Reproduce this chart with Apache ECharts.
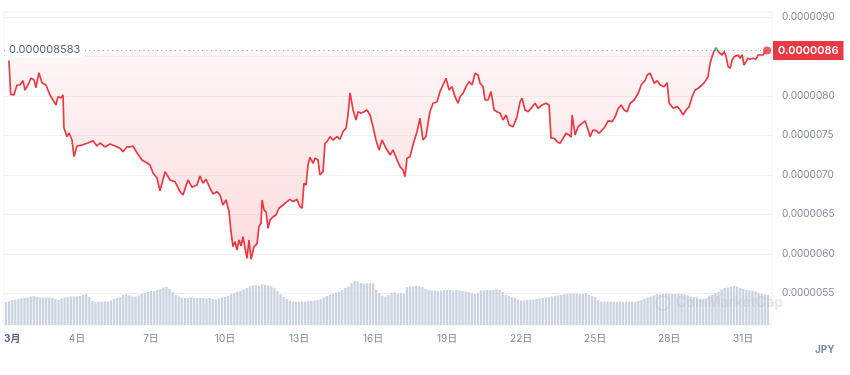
<!DOCTYPE html>
<html><head><meta charset="utf-8">
<script src="https://cdn.jsdelivr.net/npm/echarts@6/dist/echarts.min.js"></script>
<style>html,body{margin:0;padding:0;background:#fff}#c{width:850px;height:375px}</style>
</head><body><div id="c"></div>
<script>
// time in hours since 3/1 00:00, price in 1e-9 JPY
const priceHours = [5.8,7.5,8.8,10.7,13.6,16.5,19.5,21.4,24.3,27.2,
30.2,32.1,35.0,37.9,41.8,45.7,48.6,51.6,53.5,56.4,
58.4,59.3,62.3,64.2,67.1,69.1,72.0,76.9,82.7,87.6,
91.4,94.4,99.2,104.1,109.0,113.8,116.7,120.6,123.5,126.5,
130.4,135.2,140.1,143.0,145.9,149.8,152.7,155.6,157.6,162.5,
167.3,172.2,175.1,180.0,183.9,188.7,191.6,194.6,197.5,201.4,
204.3,208.2,211.1,214.0,217.0,219.9,221.8,223.7,225.7,227.6,
229.6,231.5,233.5,235.4,237.4,239.3,241.3,244.2,247.1,249.0,
251.0,252.0,253.9,255.9,257.8,259.8,262.7,265.6,268.5,272.4,
276.3,279.2,282.1,286.0,288.9,290.9,292.8,294.8,296.7,298.6,
301.6,303.5,306.4,308.3,311.3,313.2,315.2,318.1,321.0,324.9,
327.8,330.7,333.7,335.6,337.6,340.5,343.4,345.3,348.3,351.2,
354.1,357.0,359.9,362.8,365.8,368.7,372.6,376.5,379.4,383.3,
386.2,389.1,391.0,393.0,395.9,398.8,402.7,405.6,408.5,411.4,
415.3,418.3,422.2,425.1,428.0,430.9,433.9,436.8,439.7,442.6,
444.6,447.5,450.4,453.3,456.3,459.2,462.1,464.0,467.0,468.9,
471.8,474.7,477.7,480.6,483.5,486.4,489.4,492.3,496.2,500.0,
503.0,504.9,507.8,510.7,513.7,517.5,520.5,524.4,528.2,531.2,
533.1,536.0,538.9,541.9,544.8,547.7,550.6,552.6,553.6,556.5,
559.4,563.3,566.2,569.2,571.1,574.0,577.0,579.9,582.8,585.7,
588.6,592.6,595.5,598.4,601.3,604.2,607.1,610.1,614.0,617.9,
620.8,622.7,624.7,626.6,629.5,631.5,633.4,636.3,639.3,643.1,
646.0,648.0,649.0,651.9,655.8,658.7,661.5,664.4,667.4,670.3,
673.2,676.1,680.0,682.9,685.8,687.8,689.7,691.7,693.6,695.6,
697.5,699.5,701.4,703.4,705.3,707.3,709.2,711.2,713.1,715.1,
717.0,719.0,720.8,722.8,724.7,726.7,729.6,732.5,734.5,736.4,
739.4,741.3,743.2];
const priceValues = [8450,8020,8013,8013,8139,8139,8194,8076,8139,8224,
8203,8105,8295,8168,8139,8013,7949,7886,7991,7975,
8013,7595,7485,7532,7443,7232,7367,7379,7405,7434,
7367,7405,7355,7392,7367,7338,7295,7355,7355,7367,
7279,7190,7152,7127,7025,6962,6800,6937,7042,6937,
6915,6789,6747,6937,6844,6873,6987,6895,6946,6832,
6760,6789,6747,6620,6684,6535,6282,6092,6156,6051,
6177,6101,6219,6072,5946,6177,5933,6092,6127,6346,
6389,6684,6557,6535,6325,6430,6472,6494,6579,6620,
6662,6692,6662,6692,6599,6579,6895,6873,7127,7224,
7148,7211,7190,7000,7042,7401,7422,7485,7443,7485,
7452,7548,7591,7760,8040,7823,7696,7801,7781,7801,
7823,7760,7611,7443,7317,7443,7338,7253,7317,7190,
7105,7063,6979,7211,7232,7379,7548,7718,7443,7485,
7801,7908,7928,8055,8139,8224,8076,8118,7991,7908,
7991,8034,8118,8181,8139,8287,8266,8161,8118,7949,
7949,8055,7823,7801,7781,7696,7760,7633,7611,7738,
7928,7971,7823,7801,7844,7908,7844,7886,7908,7886,
7465,7465,7422,7401,7465,7528,7506,7477,7760,7506,
7611,7654,7684,7570,7485,7570,7561,7528,7570,7611,
7684,7675,7738,7844,7886,7823,7801,7908,7949,8034,
8139,8118,8203,8266,8287,8224,8161,8194,8139,8118,
8168,7908,7908,7844,7865,7823,7760,7823,7865,7991,
8076,8098,8139,8181,8244,8414,8498,8570,8611,8561,
8575,8519,8561,8498,8371,8351,8456,8498,8477,8519,
8477,8519,8392,8435,8477,8465,8477,8465,8519,8541,
8519,8561,8575];
// volume, one bar every 3 hours (relative units)
const volumeStepHours = 3;
const volumeValues = [23,24,25,25.5,26,26.5,27,27.5,
28.5,29,28,27.5,27.5,27.5,27.5,27,
26,25,26.5,27.5,28,28.5,28.5,28.5,
29,30,31,28,24,23,23.5,23.3,
23.5,23.5,24.5,26,27,28,30,31,
29.5,28.5,28.5,29.5,31,32,33,34,
34,35,36,37.5,38.3,36,33,30,
28.5,27.5,27,27,27.5,27,27,27,
27,26.5,27,26,25.5,26.5,27.5,28,
29.5,31,32,33.5,34,35.5,37,38.5,
39.5,40,39.5,40.5,40,39.5,38.5,37,
34,31,28,26,24.5,23.5,23,23.3,
23.5,23.5,24,24,24.5,25,26,27.5,
29,30.5,31.5,32.5,33.5,35,37,38.5,
42,44,43.5,42,41.5,41.7,42,41.5,
35,32,29,28.5,30,32,32.5,31.5,
32,31.5,38,38.5,38.5,39,38.5,38,
36,35,34.5,34.5,34,34.3,35,35,
35,34.5,35,34.5,34,33.5,33,32,
31,32,34.5,34.5,35,34.5,35,35.7,
35,33,30,29,28,27,25.5,24.5,
24.5,25,25.5,25.5,26,26.5,27,27.5,
28,28.5,29,29.5,30,31,31.5,31.5,
31.7,31.5,31,31,31.5,30,29,28,
25,23.5,23.5,23.3,23.5,23.3,23.3,23.5,
23.3,23.5,23.3,23.5,23.3,24,25,26.5,
27.5,28.5,29.5,31,30.5,31.5,31.7,31.5,
31,31,31.5,31,30.5,29.5,28.5,28,
27,26,25.5,27,28.5,30,32,33.5,
35.5,37,37.5,38.5,39,38.5,37,36,
35,34.5,34.3,33.5,32,31,30.5,30];
const baselineValue = 8583;
const xLabelHours = [1,72,144,216,288,360,432,504,576,648,720];
const xLabelTexts = ['3月','4日','7日','10日','13日','16日','19日','22日','25日','28日','31日'];
const yUnit = 1e-9;
const currencyName = 'JPY';

const priceData = priceHours.map((h, i) => [h, priceValues[i]]);
const volumeData = volumeValues.map((v, i) => [(i + 1) * volumeStepHours, v]);
const last = priceData[priceData.length - 1];
const fmtY = v => (v * yUnit).toFixed(7);
const yMin = 5000, yMax = 9063;

const chart = echarts.init(document.getElementById('c'));
chart.setOption({
  animation: false,
  textStyle: {fontFamily: 'Inter, "Noto Sans CJK JP", sans-serif'},
  grid: [
    {left: 4, right: 78, top: 12, bottom: 50, show: true, borderColor: '#eff2f5', borderWidth: 1},
    {left: 4, right: 78, top: 12, height: 321}
  ],
  xAxis: [
    {gridIndex: 0, type: 'value', min: 1, max: 748,
     axisLine: {show: false}, axisTick: {show: false}, splitLine: {show: false},
     axisLabel: {customValues: xLabelHours, alignMinLabel: 'left', color: '#808a9d', fontSize: 10, margin: 9,
       formatter: v => { const i = xLabelHours.indexOf(Math.round(v)); const t = i >= 0 ? xLabelTexts[i] : ''; return i === 0 ? '{m|' + t + '}' : t; },
       rich: {m: {fontWeight: 'bold', color: '#58667e', fontSize: 10}}}},
    {gridIndex: 1, type: 'value', min: 1, max: 748, show: false}
  ],
  yAxis: [
    {gridIndex: 0, type: 'value', min: 0, max: 313, show: false},
    {gridIndex: 1, type: 'value', position: 'right', min: yMin, max: yMax, interval: 500,
     axisLine: {show: false}, axisTick: {show: false},
     splitLine: {lineStyle: {color: '#eff2f5'}, showMinLine: false, showMaxLine: false},
     axisLabel: {formatter: fmtY, showMinLabel: false, showMaxLabel: false, color: '#808a9d', fontSize: 10, margin: 10}}
  ],
  visualMap: {type: 'piecewise', show: false, seriesIndex: 1, dimension: 1, min: yMin, max: yMax,
    pieces: [{gt: baselineValue, lte: yMax, color: '#16c784'}, {gte: yMin, lte: baselineValue, color: '#ea3943'}]},
  series: [
    {type: 'bar', xAxisIndex: 0, yAxisIndex: 0, data: volumeData, barWidth: 2.3, silent: true,
     itemStyle: {color: '#cbd3e1'}},
    {type: 'line', xAxisIndex: 1, yAxisIndex: 1, data: priceData, showSymbol: false, silent: true,
     lineStyle: {width: 1.7},
     areaStyle: {origin: baselineValue, color: new echarts.graphic.LinearGradient(0, 0, 0, 1, [
       {offset: 0, color: 'rgba(234,57,67,0.06)'}, {offset: 1, color: 'rgba(234,57,67,0.26)'}])}},
    {type: 'scatter', xAxisIndex: 1, yAxisIndex: 1, data: [last], symbolSize: 8, silent: true,
     itemStyle: {color: '#ea3943'}, z: 5,
     markLine: {silent: true, symbol: ['none', 'none'],
       data: [
         {yAxis: baselineValue, lineStyle: {type: [1, 3.5], color: '#9aa4b6', width: 1}, label: {show: false}},
         {yAxis: last[1], lineStyle: {width: 1, color: 'rgba(255,255,255,0)', type: 'solid'},
          label: {show: true, position: 'end', distance: 1, formatter: () => fmtY(last[1]),
            backgroundColor: '#ea3943', color: '#fff', fontSize: 11, fontWeight: 600, padding: [4, 5]}}
       ]},
     markPoint: {silent: true, symbol: 'circle', symbolSize: 0,
       data: [{coord: [1, baselineValue]}],
       label: {show: true, position: 'right', distance: 1, color: '#58667e', fontSize: 11,
         backgroundColor: '#fff', padding: [2, 4],
         formatter: () => (baselineValue * yUnit).toFixed(9)}}}
  ],
  graphic: [
    {type: 'text', left: 815, top: 345, style: {text: currencyName, fill: '#808a9d', font: 'bold 10px Inter'}},
    {type: 'circle', shape: {cx: 663, cy: 303, r: 7}, style: {fill: 'none', stroke: 'rgba(180,190,206,0.35)', lineWidth: 1.5}, z: 10},
    {type: 'text', left: 676, top: 296, z: 10, style: {text: 'CoinMarketCap', fill: 'rgba(180,190,206,0.35)', font: 'bold 14px Inter'}}
  ]
});
</script>
</body></html>
